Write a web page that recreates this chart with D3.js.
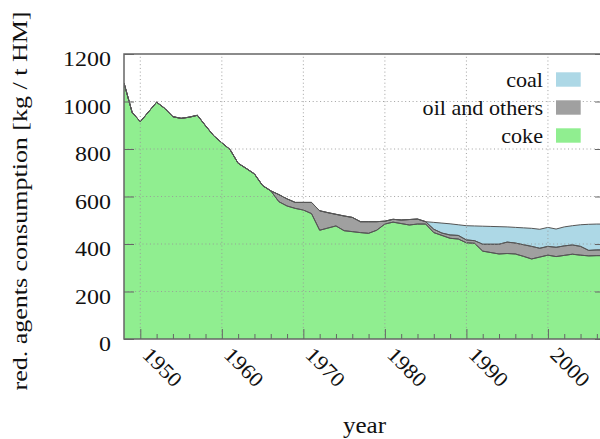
<!DOCTYPE html>
<html>
<head>
<meta charset="utf-8">
<script src="https://cdn.jsdelivr.net/npm/d3@7"></script>
<style>
  html, body { margin: 0; padding: 0; background: #fff; }
  svg { display: block; font-family: "Liberation Serif", "Times New Roman", serif; }
</style>
</head>
<body>
<svg id="chart" width="600" height="439"></svg>
<script>
// Reducing agents consumption per tonne of hot metal, by year
const years = d3.range(1948, 2008);

const coke = [
  1078, 954, 915, 956, 997, 971, 936, 929, 934, 942,
  898, 856, 826, 798, 740, 718, 695, 646, 624, 578,
  560, 550, 543, 528, 458, 467, 476, 456, 452, 448,
  445, 458, 484, 492, 486, 480, 484, 484, 448, 436,
  424, 421, 405, 403, 370, 364, 358, 360, 358, 348,
  337, 345, 353, 347, 352, 357, 353, 350, 351, 351
];

const oil = [
  0, 0, 0, 0, 0, 0, 0, 0, 0, 0,
  0, 0, 0, 0, 0, 0, 0, 0, 0, 30,
  30, 25, 32, 47, 82, 65, 49, 62, 60, 46,
  49, 36, 12, 12, 15, 23, 21, 10, 14, 10,
  14, 15, 12, 11, 29, 35, 41, 48, 46, 49,
  53, 37, 37, 39, 40, 39, 37, 23, 24, 24
];

const coal = [
  0, 0, 0, 0, 0, 0, 0, 0, 0, 0,
  0, 0, 0, 0, 0, 0, 0, 0, 0, 0,
  0, 0, 0, 0, 0, 0, 0, 0, 0, 0,
  0, 0, 0, 0, 0, 0, 0, 0, 29, 42,
  47, 45, 60, 62, 76, 75, 74, 64, 66, 71,
  76, 80, 80, 77, 80, 81, 91, 110, 109, 109
];

const seriesNames = ["coke", "oil and others", "coal"];
const seriesColors = ["#90ee90", "#a0a0a0", "#add8e6"];
const legendOrder = ["coal", "oil and others", "coke"];
const xTicks = [1950, 1960, 1970, 1980, 1990, 2000];
const yTicks = [0, 200, 400, 600, 800, 1000, 1200];

const rows = years.map((y, i) => ({
  year: y, "coke": coke[i], "oil and others": oil[i], "coal": coal[i]
}));

const svg = d3.select("#chart");
const padL = 124, padR = 605, padT = 54, padB = 339;
const textColor = "#111";
const widen = 1.09;   // slightly wide lettering

const x = d3.scaleLinear().domain([1948, 2007]).range([padL, padR]);
const yS = d3.scaleLinear().domain([0, 1200]).range([padB, padT]);

const stacked = d3.stack().keys(seriesNames)(rows);

svg.append("defs").append("clipPath").attr("id", "plotclip")
  .append("rect").attr("x", padL).attr("y", padT)
  .attr("width", padR - padL).attr("height", padB - padT);

const plot = svg.append("g").attr("clip-path", "url(#plotclip)");

const area = d3.area()
  .x(d => x(d.data.year))
  .y0(d => yS(d[0]))
  .y1(d => yS(d[1]));

plot.selectAll("path.layer")
  .data(stacked)
  .join("path")
  .attr("class", "layer")
  .attr("fill", (d, i) => seriesColors[i])
  .attr("d", area);

// outlines of each layer (top edge and bottom edge)
const topLine = d3.line().x(d => x(d.data.year)).y(d => yS(d[1]));
const botLine = d3.line().x(d => x(d.data.year)).y(d => yS(d[0]));
stacked.forEach((layer, i) => {
  if (i > 0) {
    plot.append("path").attr("d", botLine(layer))
      .attr("fill", "none").attr("stroke", "#555").attr("stroke-width", 1);
  }
  plot.append("path").attr("d", topLine(layer))
    .attr("fill", "none").attr("stroke", "#555").attr("stroke-width", 1);
});

// dotted grid in front of the areas
const grid = svg.append("g").attr("stroke", "#999").attr("stroke-width", 1)
  .attr("stroke-dasharray", "1,2.7").attr("opacity", 0.9);
xTicks.forEach(t => {
  grid.append("line").attr("x1", x(t)).attr("x2", x(t))
    .attr("y1", padB).attr("y2", padT);
});
yTicks.filter(t => t > 0 && t < 1200).forEach(t => {
  grid.append("line").attr("x1", padL).attr("x2", padR)
    .attr("y1", yS(t)).attr("y2", yS(t));
});

// axes with inward ticks
const axisColor = "#666";
const xMajor = d3.axisBottom(x).tickValues(xTicks).tickSize(-10).tickFormat("");
const xMinor = d3.axisBottom(x)
  .tickValues(d3.range(1948, 2008, 2).filter(v => v % 10 !== 0 && v > 1948))
  .tickSize(-5).tickFormat("");
const gxMinor = svg.append("g").attr("transform", `translate(0,${padB})`).call(xMinor);
const gx = svg.append("g").attr("transform", `translate(0,${padB})`).call(xMajor);
[gx, gxMinor].forEach(g => {
  g.select(".domain").remove();
  g.selectAll("line").attr("stroke", axisColor);
});

const yAxisL = d3.axisLeft(yS).tickValues(yTicks).tickSize(-10).tickFormat("");
const yAxisR = d3.axisRight(yS).tickValues(yTicks).tickSize(-10).tickFormat("");
const gyL = svg.append("g").attr("transform", `translate(${padL},0)`).call(yAxisL);
const gyR = svg.append("g").attr("transform", `translate(${padR},0)`).call(yAxisR);
[gyL, gyR].forEach(g => {
  g.select(".domain").remove();
  g.selectAll("line").attr("stroke", axisColor);
});

// border
svg.append("rect").attr("x", padL).attr("y", padT)
  .attr("width", padR - padL).attr("height", padB - padT)
  .attr("fill", "none").attr("stroke", axisColor).attr("stroke-width", 1.5);

// tick labels
svg.append("g").selectAll("text")
  .data(yTicks).join("text")
  .attr("transform", d => `translate(${padL - 13},${yS(d) + 12}) scale(${widen},1)`)
  .attr("text-anchor", "end").attr("font-size", 22).attr("fill", textColor)
  .text(d => d);

svg.append("g").selectAll("text")
  .data(xTicks).join("text")
  .attr("transform", d => `translate(${x(d) + 1},${padB + 17}) rotate(45) scale(${widen},1)`)
  .attr("text-anchor", "start").attr("font-size", 21).attr("fill", textColor)
  .text(d => d);

// axis titles
svg.append("text")
  .attr("transform", `translate(${(padL + padR) / 2},433) scale(${widen},1)`)
  .attr("text-anchor", "middle").attr("font-size", 23).attr("fill", textColor)
  .text("year");

svg.append("text")
  .attr("transform", "translate(27,201) rotate(-90)")
  .attr("text-anchor", "middle").attr("font-size", 22).attr("fill", textColor)
  .attr("textLength", 379).attr("lengthAdjust", "spacingAndGlyphs")
  .text("red. agents consumption [kg / t HM]");

// legend
const legend = svg.append("g");
legendOrder.forEach((name, i) => {
  const cy = 79.5 + i * 28;
  legend.append("rect").attr("x", 556).attr("y", cy - 7.2)
    .attr("width", 24.7).attr("height", 14.4)
    .attr("fill", seriesColors[seriesNames.indexOf(name)]);
  legend.append("text")
    .attr("transform", `translate(543,${cy + 7}) scale(${widen},1)`)
    .attr("text-anchor", "end").attr("font-size", 20.3).attr("fill", textColor)
    .text(name);
});
</script>
</body>
</html>
